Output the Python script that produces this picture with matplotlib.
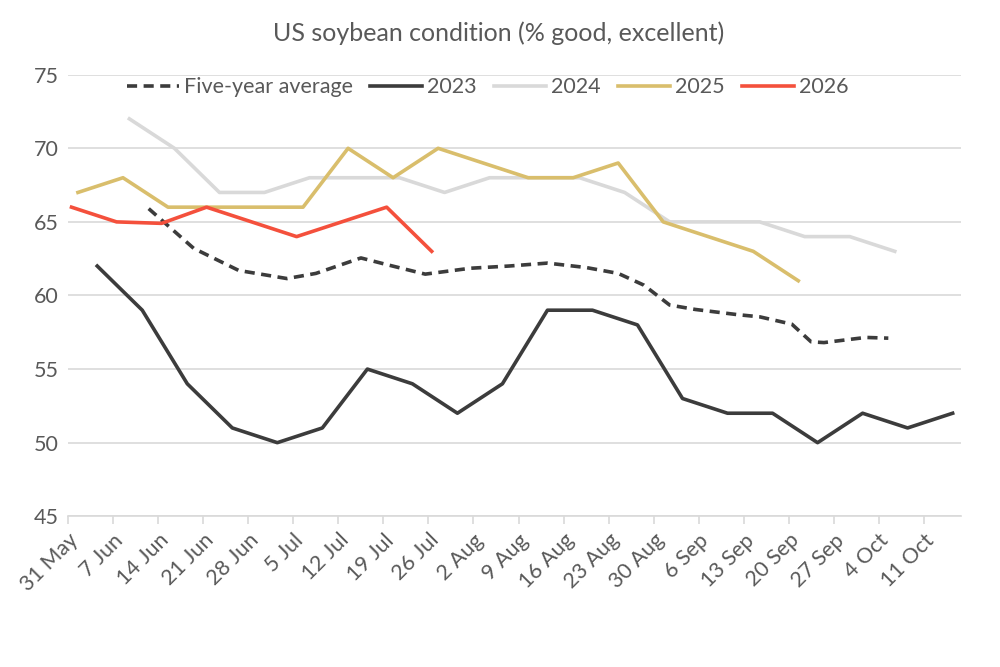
import numpy as np
import matplotlib
matplotlib.use("Agg")
import matplotlib.pyplot as plt

# days counted from 31 May; each series is plotted at its own report dates
tick_labels = ["31 May", "7 Jun", "14 Jun", "21 Jun", "28 Jun", "5 Jul", "12 Jul",
               "19 Jul", "26 Jul", "2 Aug", "9 Aug", "16 Aug", "23 Aug", "30 Aug",
               "6 Sep", "13 Sep", "20 Sep", "27 Sep", "4 Oct", "11 Oct"]

avg_days = [12, 19, 26, 33.5, 38, 45, 49, 55, 62, 68, 74, 80, 85, 89, 93, 97,
            103.5, 107, 112, 115, 117, 123.5, 127]
avg_vals = [65.9, 63.2, 61.7, 61.15, 61.5, 62.55, 62.1, 61.45, 61.85, 62.0, 62.2,
            61.9, 61.5, 60.7, 59.35, 59.05, 58.7, 58.55, 58.05, 56.85, 56.8, 57.15, 57.1]

days_2023 = [4, 11, 18, 25, 32, 39, 46, 53, 60, 67, 74, 81, 88, 95, 102, 109, 116, 123, 130, 137]
vals_2023 = [62, 59, 54, 51, 50, 51, 55, 54, 52, 54, 59, 59, 58, 53, 52, 52, 50, 52, 51, 52]

days_2024 = [9, 16, 23, 30, 37, 44, 51, 58, 65, 72, 79, 86, 93, 100, 107, 114, 121, 128]
vals_2024 = [72, 70, 67, 67, 68, 68, 68, 67, 68, 68, 68, 67, 65, 65, 65, 64, 64, 63]

days_2025 = [1, 8, 15, 22, 29, 36, 43, 50, 57, 64, 71, 78, 85, 92, 99, 106, 113]
vals_2025 = [67, 68, 66, 66, 66, 66, 70, 68, 70, 69, 68, 68, 69, 65, 64, 63, 61]

days_2026 = [0, 7, 14, 21, 28, 35, 42, 49, 56]
vals_2026 = [66, 65, 64.9, 66, 65, 64, 65, 66, 63]

plt.rcParams['font.family'] = ['Lato', 'DejaVu Sans']
text_col = "#595959"
grid_col = "#d9d9d9"

fig = plt.figure(figsize=(10, 6.67), dpi=100)
ax = fig.add_axes([0.0683, 0.226, 0.8927, 0.662])

lw = 2.6
ax.plot(avg_days, avg_vals, color="#3c3c3c", lw=lw, dashes=(2.8, 1.8),
        solid_joinstyle="round", label="Five-year average")
ax.plot(days_2023, vals_2023, color="#3c3c3c", lw=lw, label="2023")
ax.plot(days_2024, vals_2024, color="#d9d9d9", lw=lw, label="2024")
ax.plot(days_2025, vals_2025, color="#d9be6c", lw=lw, label="2025")
ax.plot(days_2026, vals_2026, color="#f4503c", lw=lw, label="2026")

ax.set_xlim(-0.5, 138.3)
ax.set_ylim(45, 75)
ax.set_yticks(np.arange(45, 76, 5))
ax.set_xticks([k * 7 - 0.5 for k in range(len(tick_labels))])
ax.set_xticklabels(tick_labels, rotation=45, ha="right", rotation_mode="anchor")

ax.grid(axis="y", color=grid_col, lw=1.2)
ax.set_axisbelow(True)
for s in ["top", "right", "left"]:
    ax.spines[s].set_visible(False)
ax.spines["bottom"].set_color(grid_col)
ax.spines["bottom"].set_linewidth(1.2)
ax.tick_params(axis="x", colors=grid_col, length=6, width=1.2, labelcolor=text_col,
               labelsize=15.5, pad=4)
ax.tick_params(axis="y", length=0, labelcolor=text_col, labelsize=15.5, pad=7)

fig.text(0.499, 1 - 33 / 667, "US soybean condition (% good, excellent)",
         color=text_col, fontsize=18, ha="center", va="center")

leg = ax.legend(loc="center", bbox_to_anchor=(0.47, 0.972), ncol=5, frameon=False,
                fontsize=15.5, handlelength=2.4, handletextpad=0.25, columnspacing=0.8)
for t in leg.get_texts():
    t.set_color(text_col)

fig.savefig("out.png", dpi=100)
